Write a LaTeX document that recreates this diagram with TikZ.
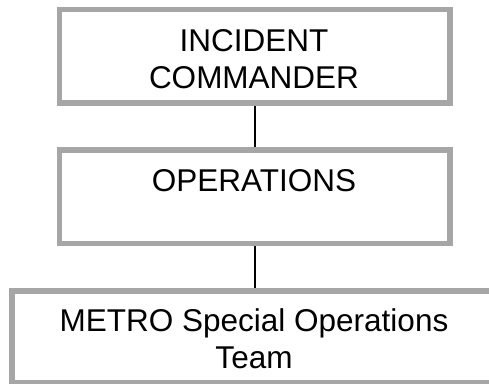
\documentclass[tikz,border=0pt]{standalone}
\usepackage{fontspec}
\setmainfont{Liberation Sans}
\definecolor{boxgray}{RGB}{166,166,166}
\begin{document}
\begin{tikzpicture}[x=1pt,y=-1pt,
  orgbox/.style={draw=boxgray,line width=5.5pt,fill=white,rectangle,inner sep=0pt},
  lbl/.style={anchor=base,inner sep=0pt,font=\fontsize{31.5}{36}\selectfont},
  link/.style={draw=black,line width=1.6pt}]
\useasboundingbox (0,0) rectangle (489,383);
\clip (0,0) rectangle (489,383);
\node[orgbox,minimum width=390.5pt,minimum height=93.5pt] (ic) at (254.75,56.25) {};
\node[orgbox,minimum width=390.5pt,minimum height=93.3pt] (ops) at (254.75,196.65) {};
\node[orgbox,minimum width=485.5pt,minimum height=91.8pt] (metro) at (254.75,336.9) {};
\node[lbl] (t1) at (254,51.7) {INCIDENT};
\node[lbl] (t2) at (254,88.3) {COMMANDER};
\node[lbl] (t3) at (254,191.7) {OPERATIONS};
\node[lbl] (t4) at (254,331.7) {METRO Special Operations};
\node[lbl] (t5) at (254,368.3) {Team};
\draw[link] (ic.south) -- (ops.north);
\draw[link] (ops.south) -- (metro.north);
\end{tikzpicture}
\end{document}
